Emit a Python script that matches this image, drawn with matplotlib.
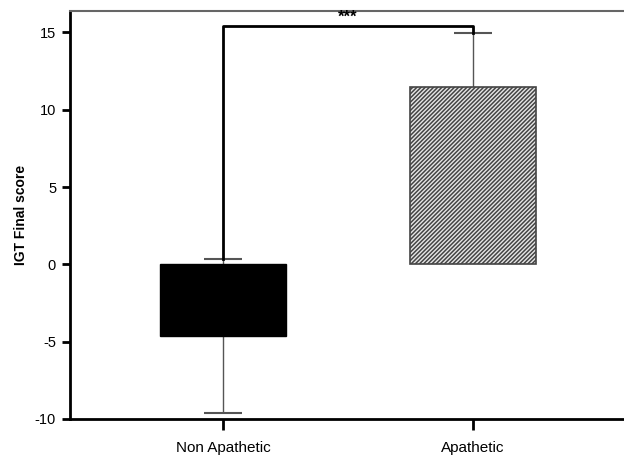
import matplotlib
matplotlib.use("Agg")
import matplotlib.pyplot as plt

categories = ["Non Apathetic", "Apathetic"]
means = [-4.63, 11.49]
errors = [4.97, 3.45]
bracket_y = 15.4
bracket_low = [0.34, 14.94]
sig_label = "***"
yticks = [-10, -5, 0, 5, 10, 15]

plt.rcParams['font.family'] = ['Liberation Sans', 'DejaVu Sans']
plt.rcParams['hatch.color'] = '#3a3a3a'
plt.rcParams['hatch.linewidth'] = 1.1

fig = plt.figure(figsize=(6.24, 4.55), dpi=100)
ax = fig.add_axes([70/624, 1-419/455, 1.2, (419-11)/455])

x = [0, 1]
ax.errorbar(x, means, yerr=errors, fmt='none', ecolor='#555555', elinewidth=1.0,
            capsize=13.5, capthick=1.5, zorder=1)
ax.bar(x[0], means[0], width=0.505, color='black', edgecolor='black', zorder=2)
ax.bar(x[1], means[1], width=0.505, color='#e6e6e6', edgecolor='#444444',
       hatch='////////', linewidth=1.2, zorder=2)

ax.plot([x[0], x[0], x[1], x[1]], [bracket_low[0], bracket_y, bracket_y, bracket_low[1]],
        color='black', lw=2, zorder=3, clip_on=False)
ax.text(0.5, bracket_y + 0.1, sig_label, ha='center', va='bottom', fontsize=12, fontweight='bold')

ax.set_xlim(-0.612, -0.612 + 1.2*624/250)
ax.set_ylim(-10, 16.38)
ax.set_yticks(yticks)
ax.set_yticklabels([str(t) for t in yticks], fontsize=10.5)
ax.set_xticks(x)
ax.set_xticklabels(categories, fontsize=11)
ax.set_ylabel("IGT Final score", fontsize=10, fontweight='bold', labelpad=5)

for s in ['left', 'bottom']:
    ax.spines[s].set_linewidth(2)
    ax.spines[s].set_color('black')
ax.spines['top'].set_linewidth(1.5)
ax.spines['top'].set_color('#666666')
ax.spines['right'].set_visible(False)
ax.tick_params(axis='y', direction='out', length=6, width=2, pad=4)
ax.tick_params(axis='x', direction='out', length=8, width=2, pad=8)

fig.savefig("out.png", dpi=100)
